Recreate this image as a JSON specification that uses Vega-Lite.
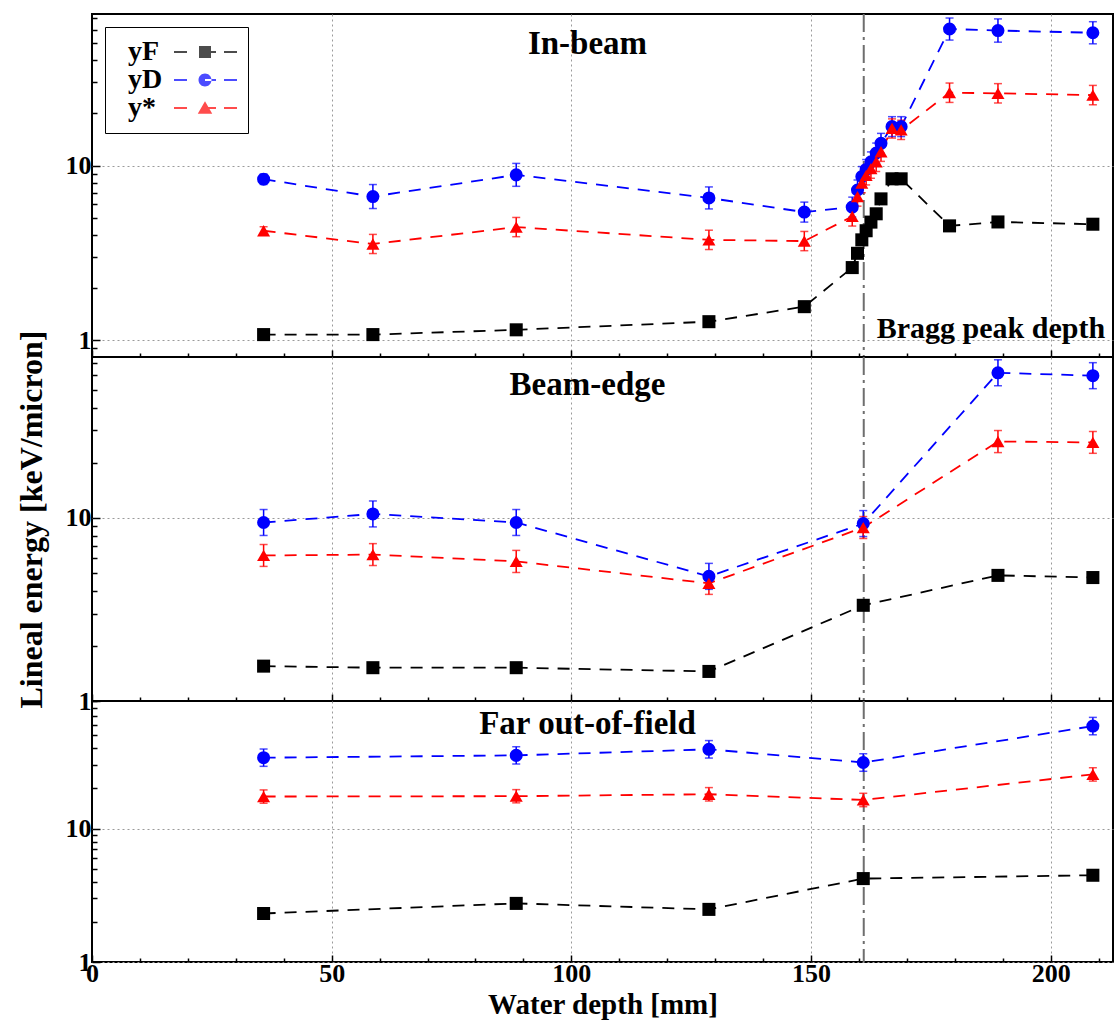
{
  "$schema": "https://vega.github.io/schema/vega-lite/v6.json",
  "background": "white",
  "padding": {"left": 14, "top": 3, "right": 2, "bottom": 0},
  "bounds": "flush",
  "spacing": 0,
  "config": {
    "view": {"stroke": "black", "strokeWidth": 2},
    "axis": {
      "labelFont": "Liberation Serif", "labelFontWeight": "bold", "labelFontSize": 26, "labelColor": "black",
      "titleFont": "Liberation Serif", "titleFontWeight": "bold", "titleFontSize": 29, "titleColor": "black",
      "domain": false, "tickColor": "black", "tickWidth": 1.5, "grid": true, "gridColor": "#9a9a9a", "gridDash": [2, 3], "gridWidth": 1,
      "labelOverlap": false, "labelFlush": false, "labelBound": false
    },
    "title": {"font": "Liberation Serif", "fontWeight": "bold", "fontSize": 33, "color": "black", "anchor": "middle", "frame": "group", "baseline": "alphabetic", "dx": -15}
  },
  "datasets": {
    "bragg": [{"d": 161}],
    "pts": [
      {"p":"In-beam","s":"yF","d":35.8,"v":1.08,"lo":1.04,"hi":1.12},
      {"p":"In-beam","s":"yF","d":58.6,"v":1.08,"lo":1.04,"hi":1.12},
      {"p":"In-beam","s":"yF","d":88.5,"v":1.15,"lo":1.10,"hi":1.20},
      {"p":"In-beam","s":"yF","d":128.7,"v":1.28,"lo":1.23,"hi":1.33},
      {"p":"In-beam","s":"yF","d":148.6,"v":1.56,"lo":1.50,"hi":1.62},
      {"p":"In-beam","s":"yF","d":158.6,"v":2.61,"lo":2.51,"hi":2.71},
      {"p":"In-beam","s":"yF","d":159.7,"v":3.15,"lo":3.02,"hi":3.28},
      {"p":"In-beam","s":"yF","d":160.6,"v":3.76,"lo":3.61,"hi":3.91},
      {"p":"In-beam","s":"yF","d":161.5,"v":4.24,"lo":4.07,"hi":4.41},
      {"p":"In-beam","s":"yF","d":162.5,"v":4.75,"lo":4.56,"hi":4.94},
      {"p":"In-beam","s":"yF","d":163.6,"v":5.3,"lo":5.09,"hi":5.51},
      {"p":"In-beam","s":"yF","d":164.6,"v":6.45,"lo":6.19,"hi":6.71},
      {"p":"In-beam","s":"yF","d":166.9,"v":8.4,"lo":8.06,"hi":8.74},
      {"p":"In-beam","s":"yF","d":168.8,"v":8.4,"lo":8.06,"hi":8.74},
      {"p":"In-beam","s":"yF","d":178.9,"v":4.52,"lo":4.34,"hi":4.70},
      {"p":"In-beam","s":"yF","d":189.0,"v":4.76,"lo":4.57,"hi":4.95},
      {"p":"In-beam","s":"yF","d":208.8,"v":4.62,"lo":4.44,"hi":4.80},
      {"p":"In-beam","s":"yD","d":35.8,"v":8.36,"lo":7.8,"hi":8.95},
      {"p":"In-beam","s":"yD","d":58.6,"v":6.65,"lo":5.68,"hi":7.79},
      {"p":"In-beam","s":"yD","d":88.5,"v":8.85,"lo":7.61,"hi":10.29},
      {"p":"In-beam","s":"yD","d":128.7,"v":6.53,"lo":5.65,"hi":7.55},
      {"p":"In-beam","s":"yD","d":148.6,"v":5.42,"lo":4.75,"hi":6.18},
      {"p":"In-beam","s":"yD","d":158.6,"v":5.79,"lo":5.08,"hi":6.6},
      {"p":"In-beam","s":"yD","d":159.7,"v":7.25,"lo":6.36,"hi":8.27},
      {"p":"In-beam","s":"yD","d":160.6,"v":8.66,"lo":7.6,"hi":9.87},
      {"p":"In-beam","s":"yD","d":161.5,"v":9.5,"lo":8.33,"hi":10.83},
      {"p":"In-beam","s":"yD","d":162.5,"v":10.5,"lo":9.21,"hi":11.97},
      {"p":"In-beam","s":"yD","d":163.6,"v":11.8,"lo":10.35,"hi":13.45},
      {"p":"In-beam","s":"yD","d":164.6,"v":13.4,"lo":11.75,"hi":15.28},
      {"p":"In-beam","s":"yD","d":166.9,"v":16.7,"lo":14.65,"hi":19.04},
      {"p":"In-beam","s":"yD","d":168.8,"v":16.7,"lo":14.65,"hi":19.04},
      {"p":"In-beam","s":"yD","d":178.9,"v":60.4,"lo":52.2,"hi":69.8},
      {"p":"In-beam","s":"yD","d":189.0,"v":59.2,"lo":50.8,"hi":69.0},
      {"p":"In-beam","s":"yD","d":208.8,"v":57.5,"lo":49.7,"hi":66.5},
      {"p":"In-beam","s":"y*","d":35.8,"v":4.24,"lo":4.02,"hi":4.47},
      {"p":"In-beam","s":"y*","d":58.6,"v":3.56,"lo":3.14,"hi":4.04},
      {"p":"In-beam","s":"y*","d":88.5,"v":4.45,"lo":3.92,"hi":5.05},
      {"p":"In-beam","s":"y*","d":128.7,"v":3.76,"lo":3.31,"hi":4.27},
      {"p":"In-beam","s":"y*","d":148.6,"v":3.7,"lo":3.26,"hi":4.2},
      {"p":"In-beam","s":"y*","d":158.6,"v":5.12,"lo":4.51,"hi":5.81},
      {"p":"In-beam","s":"y*","d":159.7,"v":6.65,"lo":5.86,"hi":7.55},
      {"p":"In-beam","s":"y*","d":160.6,"v":7.93,"lo":6.99,"hi":9.0},
      {"p":"In-beam","s":"y*","d":161.5,"v":8.8,"lo":7.75,"hi":9.99},
      {"p":"In-beam","s":"y*","d":162.5,"v":9.6,"lo":8.46,"hi":10.9},
      {"p":"In-beam","s":"y*","d":163.6,"v":10.5,"lo":9.25,"hi":11.92},
      {"p":"In-beam","s":"y*","d":164.6,"v":12.0,"lo":10.57,"hi":13.62},
      {"p":"In-beam","s":"y*","d":166.9,"v":16.3,"lo":14.36,"hi":18.5},
      {"p":"In-beam","s":"y*","d":168.8,"v":16.0,"lo":14.1,"hi":18.16},
      {"p":"In-beam","s":"y*","d":178.9,"v":26.1,"lo":22.97,"hi":29.65},
      {"p":"In-beam","s":"y*","d":189.0,"v":25.9,"lo":22.8,"hi":29.42},
      {"p":"In-beam","s":"y*","d":208.8,"v":25.3,"lo":22.27,"hi":28.74},
      {"p":"Beam-edge","s":"yF","d":35.8,"v":1.55,"lo":1.49,"hi":1.61},
      {"p":"Beam-edge","s":"yF","d":58.6,"v":1.52,"lo":1.46,"hi":1.58},
      {"p":"Beam-edge","s":"yF","d":88.5,"v":1.52,"lo":1.46,"hi":1.58},
      {"p":"Beam-edge","s":"yF","d":128.7,"v":1.45,"lo":1.39,"hi":1.51},
      {"p":"Beam-edge","s":"yF","d":160.9,"v":3.33,"lo":3.2,"hi":3.46},
      {"p":"Beam-edge","s":"yF","d":189.0,"v":4.85,"lo":4.66,"hi":5.04},
      {"p":"Beam-edge","s":"yF","d":208.8,"v":4.72,"lo":4.53,"hi":4.91},
      {"p":"Beam-edge","s":"yD","d":35.8,"v":9.43,"lo":8.01,"hi":11.1},
      {"p":"Beam-edge","s":"yD","d":58.6,"v":10.5,"lo":8.92,"hi":12.36},
      {"p":"Beam-edge","s":"yD","d":88.5,"v":9.43,"lo":8.01,"hi":11.1},
      {"p":"Beam-edge","s":"yD","d":128.7,"v":4.79,"lo":4.07,"hi":5.64},
      {"p":"Beam-edge","s":"yD","d":160.9,"v":9.3,"lo":7.9,"hi":10.95},
      {"p":"Beam-edge","s":"yD","d":189.0,"v":61.9,"lo":52.6,"hi":72.9},
      {"p":"Beam-edge","s":"yD","d":208.8,"v":59.7,"lo":50.7,"hi":70.3},
      {"p":"Beam-edge","s":"y*","d":35.8,"v":6.23,"lo":5.43,"hi":7.15},
      {"p":"Beam-edge","s":"y*","d":58.6,"v":6.3,"lo":5.49,"hi":7.23},
      {"p":"Beam-edge","s":"y*","d":88.5,"v":5.78,"lo":5.03,"hi":6.64},
      {"p":"Beam-edge","s":"y*","d":128.7,"v":4.39,"lo":3.82,"hi":5.04},
      {"p":"Beam-edge","s":"y*","d":160.9,"v":8.85,"lo":7.71,"hi":10.16},
      {"p":"Beam-edge","s":"y*","d":189.0,"v":26.1,"lo":22.7,"hi":29.96},
      {"p":"Beam-edge","s":"y*","d":208.8,"v":25.8,"lo":22.5,"hi":29.6},
      {"p":"Far out-of-field","s":"yF","d":35.8,"v":2.31,"lo":2.24,"hi":2.38},
      {"p":"Far out-of-field","s":"yF","d":88.5,"v":2.75,"lo":2.67,"hi":2.83},
      {"p":"Far out-of-field","s":"yF","d":128.7,"v":2.48,"lo":2.41,"hi":2.55},
      {"p":"Far out-of-field","s":"yF","d":160.9,"v":4.22,"lo":4.09,"hi":4.35},
      {"p":"Far out-of-field","s":"yF","d":208.8,"v":4.47,"lo":4.34,"hi":4.6},
      {"p":"Far out-of-field","s":"yD","d":35.8,"v":34.0,"lo":29.3,"hi":39.5},
      {"p":"Far out-of-field","s":"yD","d":88.5,"v":35.4,"lo":30.5,"hi":41.1},
      {"p":"Far out-of-field","s":"yD","d":128.7,"v":39.3,"lo":33.8,"hi":45.7},
      {"p":"Far out-of-field","s":"yD","d":160.9,"v":31.3,"lo":26.9,"hi":36.4},
      {"p":"Far out-of-field","s":"yD","d":208.8,"v":58.7,"lo":50.5,"hi":68.2},
      {"p":"Far out-of-field","s":"y*","d":35.8,"v":17.4,"lo":15.5,"hi":19.5},
      {"p":"Far out-of-field","s":"y*","d":88.5,"v":17.5,"lo":15.6,"hi":19.6},
      {"p":"Far out-of-field","s":"y*","d":128.7,"v":18.1,"lo":16.1,"hi":20.3},
      {"p":"Far out-of-field","s":"y*","d":160.9,"v":16.4,"lo":14.6,"hi":18.4},
      {"p":"Far out-of-field","s":"y*","d":208.8,"v":25.5,"lo":22.7,"hi":28.6}
    ]
  },
  "resolve": {"scale": {"color": "independent", "shape": "independent"}, "legend": {"color": "independent", "shape": "independent"}},
  "vconcat": [
    {
      "width": 1021, "height": 343,
      "title": {"text": "In-beam", "offset": -56},
      "data": {"name": "pts"},
      "transform": [{"filter": "datum.p === 'In-beam'"}],
      "layer": [
        {
          "data": {"name": "bragg"},
          "mark": {"type": "rule", "color": "#6e6e6e", "strokeWidth": 2, "strokeDash": [18, 5, 3, 5]},
          "encoding": {
            "x": {"field": "d", "type": "quantitative", "scale": {"domain": [0, 213], "nice": false, "zero": false},
              "axis": {"values": [0,5,10,15,20,25,30,35,40,45,50,55,60,65,70,75,80,85,90,95,100,105,110,115,120,125,130,135,140,145,150,155,160,165,170,175,180,185,190,195,200,205,210],
                "labels": false, "title": null,
                "tickSize": {"condition": {"test": "datum.value % 50 === 0", "value": -7}, "value": -4},
                "gridOpacity": {"condition": {"test": "datum.value % 50 === 0 && datum.value > 0", "value": 1}, "value": 0}}}
          }
        },
        {
          "mark": {"type": "line", "strokeWidth": 1.8, "strokeDash": [12, 9]},
          "encoding": {
            "x": {"field": "d", "type": "quantitative", "scale": {"domain": [0, 213], "nice": false, "zero": false}},
            "y": {"field": "v", "type": "quantitative", "scale": {"type": "log", "domain": [0.804, 73.6], "nice": false},
              "axis": {"values": [0.8,0.9,1,2,3,4,5,6,7,8,9,10,20,30,40,50,60,70], "title": null, "labelPadding": 9,
                "labelExpr": "datum.value === 1 ? '1' : datum.value === 10 ? '10' : ''",
                "tickSize": {"condition": {"test": "datum.value === 1 || datum.value === 10", "value": -8}, "value": -5},
                "gridOpacity": {"condition": {"test": "datum.value === 1 || datum.value === 10", "value": 1}, "value": 0}}},
            "color": {"field": "s", "type": "nominal", "scale": {"domain": ["yF", "yD", "y*"], "range": ["black", "blue", "red"]}}
          }
        },
        {
          "mark": {"type": "rule", "strokeWidth": 1.5},
          "encoding": {
            "x": {"field": "d", "type": "quantitative"},
            "y": {"field": "lo", "type": "quantitative"},
            "y2": {"field": "hi"},
            "color": {"field": "s", "type": "nominal"}
          }
        },
        {
          "mark": {"type": "tick", "orient": "horizontal", "size": 8, "thickness": 1.5},
          "encoding": {
            "x": {"field": "d", "type": "quantitative"},
            "y": {"field": "lo", "type": "quantitative"},
            "color": {"field": "s", "type": "nominal"}
          }
        },
        {
          "mark": {"type": "tick", "orient": "horizontal", "size": 8, "thickness": 1.5},
          "encoding": {
            "x": {"field": "d", "type": "quantitative"},
            "y": {"field": "hi", "type": "quantitative"},
            "color": {"field": "s", "type": "nominal"}
          }
        },
        {
          "transform": [{"filter": "datum.s === 'yF'"}],
          "mark": {"type": "point", "shape": "square", "filled": true, "size": 170, "opacity": 1},
          "encoding": {
            "x": {"field": "d", "type": "quantitative"},
            "y": {"field": "v", "type": "quantitative"},
            "color": {"field": "s", "type": "nominal"}
          }
        },
        {
          "transform": [{"filter": "datum.s === 'yD'"}],
          "mark": {"type": "point", "shape": "circle", "filled": true, "size": 170, "opacity": 1},
          "encoding": {
            "x": {"field": "d", "type": "quantitative"},
            "y": {"field": "v", "type": "quantitative"},
            "color": {"field": "s", "type": "nominal"}
          }
        },
        {
          "transform": [{"filter": "datum.s === 'y*'"}],
          "mark": {"type": "point", "shape": "triangle-up", "filled": true, "size": 170, "opacity": 1},
          "encoding": {
            "x": {"field": "d", "type": "quantitative"},
            "y": {"field": "v", "type": "quantitative"},
            "color": {"field": "s", "type": "nominal"}
          }
        },
        {
          "transform": [{"filter": "datum.s === 'none'"}],
          "mark": {"type": "point", "filled": true, "size": 100, "opacity": 1},
          "encoding": {
            "x": {"field": "d", "type": "quantitative"},
            "y": {"field": "v", "type": "quantitative"},
            "shape": {"field": "s", "type": "nominal",
              "scale": {"domain": ["yF", "yD", "y*"], "range": [
                "M-6.2,-0.18H-3.6V0.18H-6.2Z M3.8,-0.18H6.4V0.18H3.8Z M-1.2,-0.18H2.2V0.18H-1.2Z M-1.2,-1.2H1.2V1.2H-1.2Z",
                "M-6.2,-0.18H-3.6V0.18H-6.2Z M3.8,-0.18H6.4V0.18H3.8Z M0,-0.18H2.2V0.18H0Z M-1.3,0A1.3,1.3,0,1,0,1.3,0A1.3,1.3,0,1,0,-1.3,0Z",
                "M-6.2,-0.18H-3.6V0.18H-6.2Z M3.8,-0.18H6.4V0.18H3.8Z M0,-0.18H2.2V0.18H0Z M0,-1.35L1.45,1.15H-1.45Z"
              ]},
              "legend": {
                "title": null, "orient": "top-left", "offset": 13, "padding": 11,
                "fillColor": "white", "strokeColor": "black",
                "labelFont": "Liberation Serif", "labelFontWeight": "bold", "labelFontSize": 28, "labelColor": "black",
                "rowPadding": -2, "labelLimit": 0, "symbolOffset": 75, "labelOffset": -91, "symbolSize": 100, "symbolStrokeWidth": 0, "symbolOpacity": 1
              }},
            "color": {"field": "s", "type": "nominal",
              "legend": {
                "title": null, "orient": "top-left", "offset": 13, "padding": 11,
                "fillColor": "white", "strokeColor": "black",
                "labelFont": "Liberation Serif", "labelFontWeight": "bold", "labelFontSize": 28, "labelColor": "black",
                "rowPadding": -2, "labelLimit": 0, "symbolOffset": 75, "labelOffset": -91, "symbolSize": 100, "symbolStrokeWidth": 0, "symbolOpacity": 1
              }}
          }
        },
        {
          "data": {"name": "bragg"},
          "mark": {"type": "text", "align": "left", "baseline": "alphabetic", "dx": 13, "dy": -2, "font": "Liberation Serif", "fontWeight": "bold", "fontSize": 30, "color": "black"},
          "encoding": {
            "x": {"field": "d", "type": "quantitative"},
            "y": {"datum": 1, "type": "quantitative"},
            "text": {"value": "Bragg peak depth"}
          }
        }
      ]
    },
    {
      "width": 1021, "height": 344,
      "title": {"text": "Beam-edge", "offset": -72},
      "data": {"name": "pts"},
      "transform": [{"filter": "datum.p === 'Beam-edge'"}],
      "layer": [
        {
          "data": {"name": "bragg"},
          "mark": {"type": "rule", "color": "#6e6e6e", "strokeWidth": 2, "strokeDash": [18, 5, 3, 5]},
          "encoding": {
            "x": {"field": "d", "type": "quantitative", "scale": {"domain": [0, 213], "nice": false, "zero": false},
              "axis": {"values": [0,5,10,15,20,25,30,35,40,45,50,55,60,65,70,75,80,85,90,95,100,105,110,115,120,125,130,135,140,145,150,155,160,165,170,175,180,185,190,195,200,205,210],
                "labels": false, "title": null,
                "tickSize": {"condition": {"test": "datum.value % 50 === 0", "value": -7}, "value": -4},
                "gridOpacity": {"condition": {"test": "datum.value % 50 === 0 && datum.value > 0", "value": 1}, "value": 0}}}
          }
        },
        {
          "mark": {"type": "line", "strokeWidth": 1.8, "strokeDash": [12, 9]},
          "encoding": {
            "x": {"field": "d", "type": "quantitative", "scale": {"domain": [0, 213], "nice": false, "zero": false}},
            "y": {"field": "v", "type": "quantitative", "scale": {"type": "log", "domain": [1, 75.5], "nice": false},
              "axis": {"values": [1,2,3,4,5,6,7,8,9,10,20,30,40,50,60,70], "title": "Lineal energy [keV/micron]", "titleFontSize": 32, "titlePadding": 17, "titleY": 162, "labelPadding": 9,
                "labelExpr": "datum.value === 1 ? '1' : datum.value === 10 ? '10' : ''",
                "tickSize": {"condition": {"test": "datum.value === 1 || datum.value === 10", "value": -8}, "value": -5},
                "gridOpacity": {"condition": {"test": "datum.value === 1 || datum.value === 10", "value": 1}, "value": 0}}},
            "color": {"field": "s", "type": "nominal", "scale": {"domain": ["yF", "yD", "y*"], "range": ["black", "blue", "red"]}, "legend": null}
          }
        },
        {
          "mark": {"type": "rule", "strokeWidth": 1.5},
          "encoding": {
            "x": {"field": "d", "type": "quantitative"},
            "y": {"field": "lo", "type": "quantitative"},
            "y2": {"field": "hi"},
            "color": {"field": "s", "type": "nominal", "legend": null}
          }
        },
        {
          "mark": {"type": "tick", "orient": "horizontal", "size": 8, "thickness": 1.5},
          "encoding": {
            "x": {"field": "d", "type": "quantitative"},
            "y": {"field": "lo", "type": "quantitative"},
            "color": {"field": "s", "type": "nominal", "legend": null}
          }
        },
        {
          "mark": {"type": "tick", "orient": "horizontal", "size": 8, "thickness": 1.5},
          "encoding": {
            "x": {"field": "d", "type": "quantitative"},
            "y": {"field": "hi", "type": "quantitative"},
            "color": {"field": "s", "type": "nominal", "legend": null}
          }
        },
        {
          "mark": {"type": "point", "filled": true, "size": 170, "opacity": 1},
          "encoding": {
            "x": {"field": "d", "type": "quantitative"},
            "y": {"field": "v", "type": "quantitative"},
            "shape": {"field": "s", "type": "nominal", "scale": {"domain": ["yF", "yD", "y*"], "range": ["square", "circle", "triangle-up"]}, "legend": null},
            "color": {"field": "s", "type": "nominal", "legend": null}
          }
        }
      ]
    },
    {
      "width": 1021, "height": 261,
      "title": {"text": "Far out-of-field", "offset": -53},
      "data": {"name": "pts"},
      "transform": [{"filter": "datum.p === 'Far out-of-field'"}],
      "layer": [
        {
          "data": {"name": "bragg"},
          "mark": {"type": "rule", "color": "#6e6e6e", "strokeWidth": 2, "strokeDash": [18, 5, 3, 5]},
          "encoding": {
            "x": {"field": "d", "type": "quantitative", "scale": {"domain": [0, 213], "nice": false, "zero": false},
              "axis": {"values": [0,5,10,15,20,25,30,35,40,45,50,55,60,65,70,75,80,85,90,95,100,105,110,115,120,125,130,135,140,145,150,155,160,165,170,175,180,185,190,195,200,205,210],
                "title": "Water depth [mm]", "labelPadding": 5, "titlePadding": 1,
                "labelExpr": "datum.value % 50 === 0 ? datum.label : ''",
                "tickSize": {"condition": {"test": "datum.value % 50 === 0", "value": -7}, "value": -4},
                "gridOpacity": {"condition": {"test": "datum.value % 50 === 0 && datum.value > 0", "value": 1}, "value": 0}}}
          }
        },
        {
          "mark": {"type": "line", "strokeWidth": 1.8, "strokeDash": [12, 9]},
          "encoding": {
            "x": {"field": "d", "type": "quantitative", "scale": {"domain": [0, 213], "nice": false, "zero": false}},
            "y": {"field": "v", "type": "quantitative", "scale": {"type": "log", "domain": [1, 90.5], "nice": false},
              "axis": {"values": [1,2,3,4,5,6,7,8,9,10,20,30,40,50,60,70,80,90], "title": null, "labelPadding": 9,
                "labelExpr": "datum.value === 1 ? '1' : datum.value === 10 ? '10' : ''",
                "tickSize": {"condition": {"test": "datum.value === 1 || datum.value === 10", "value": -8}, "value": -5},
                "gridOpacity": {"condition": {"test": "datum.value === 1 || datum.value === 10", "value": 1}, "value": 0}}},
            "color": {"field": "s", "type": "nominal", "scale": {"domain": ["yF", "yD", "y*"], "range": ["black", "blue", "red"]}, "legend": null}
          }
        },
        {
          "mark": {"type": "rule", "strokeWidth": 1.5},
          "encoding": {
            "x": {"field": "d", "type": "quantitative"},
            "y": {"field": "lo", "type": "quantitative"},
            "y2": {"field": "hi"},
            "color": {"field": "s", "type": "nominal", "legend": null}
          }
        },
        {
          "mark": {"type": "tick", "orient": "horizontal", "size": 8, "thickness": 1.5},
          "encoding": {
            "x": {"field": "d", "type": "quantitative"},
            "y": {"field": "lo", "type": "quantitative"},
            "color": {"field": "s", "type": "nominal", "legend": null}
          }
        },
        {
          "mark": {"type": "tick", "orient": "horizontal", "size": 8, "thickness": 1.5},
          "encoding": {
            "x": {"field": "d", "type": "quantitative"},
            "y": {"field": "hi", "type": "quantitative"},
            "color": {"field": "s", "type": "nominal", "legend": null}
          }
        },
        {
          "mark": {"type": "point", "filled": true, "size": 170, "opacity": 1},
          "encoding": {
            "x": {"field": "d", "type": "quantitative"},
            "y": {"field": "v", "type": "quantitative"},
            "shape": {"field": "s", "type": "nominal", "scale": {"domain": ["yF", "yD", "y*"], "range": ["square", "circle", "triangle-up"]}, "legend": null},
            "color": {"field": "s", "type": "nominal", "legend": null}
          }
        }
      ]
    }
  ]
}
